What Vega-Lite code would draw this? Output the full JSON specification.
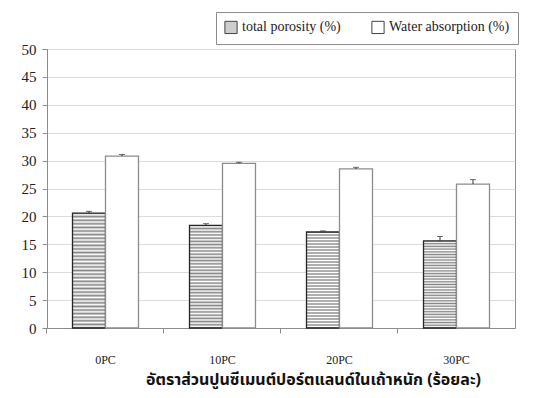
{
  "$schema": "https://vega.github.io/schema/vega-lite/v6.json",
  "width": 468,
  "height": 279,
  "autosize": "none",
  "padding": {"left": 47, "top": 49, "right": 20, "bottom": 70},
  "background": "white",
  "config": {
    "view": {"stroke": "#8c8c8c", "strokeWidth": 1},
    "font": "Liberation Serif",
    "legend": {"labelFont": "Liberation Serif", "labelFontSize": 14}
  },
  "data": {
    "values": [
      {"group": "0PC", "series": "total porosity (%)", "value": 20.6, "hi": 20.9},
      {"group": "0PC", "series": "Water absorption (%)", "value": 30.8, "hi": 31.1},
      {"group": "10PC", "series": "total porosity (%)", "value": 18.4, "hi": 18.7},
      {"group": "10PC", "series": "Water absorption (%)", "value": 29.5, "hi": 29.7},
      {"group": "20PC", "series": "total porosity (%)", "value": 17.2, "hi": 17.4},
      {"group": "20PC", "series": "Water absorption (%)", "value": 28.5, "hi": 28.8},
      {"group": "30PC", "series": "total porosity (%)", "value": 15.6, "hi": 16.4},
      {"group": "30PC", "series": "Water absorption (%)", "value": 25.8, "hi": 26.6}
    ]
  },
  "encoding": {
    "x": {
      "field": "group",
      "type": "nominal",
      "sort": ["0PC", "10PC", "20PC", "30PC"],
      "scale": {"paddingInner": 0.436, "paddingOuter": 0.218},
      "axis": {
        "title": "อัตราส่วนปูนซีเมนต์ปอร์ตแลนด์ในเถ้าหนัก  (ร้อยละ)",
        "titleFont": "Noto Sans Thai, Noto Sans, sans-serif",
        "titleFontSize": 16,
        "titleFontWeight": "bold",
        "titleColor": "#111",
        "titlePadding": 6,
        "titleX": 266,
        "titleAlign": "center",
        "labelAngle": 0,
        "labelFont": "Liberation Serif",
        "labelFontSize": 12,
        "labelColor": "#222",
        "labelPadding": 21,
        "bandPosition": -0.394,
        "ticks": true,
        "tickSize": 5,
        "tickColor": "#8c8c8c",
        "domainColor": "#8c8c8c"
      }
    },
    "xOffset": {
      "field": "series",
      "type": "nominal",
      "sort": ["total porosity (%)", "Water absorption (%)"],
      "scale": {"paddingInner": 0, "paddingOuter": 0}
    },
    "y": {
      "field": "value",
      "type": "quantitative",
      "scale": {"domain": [0, 50]},
      "axis": {
        "title": null,
        "values": [0, 5, 10, 15, 20, 25, 30, 35, 40, 45, 50],
        "labelOverlap": false,
        "labelFont": "Liberation Serif",
        "labelFontSize": 15,
        "labelColor": "#222",
        "labelPadding": 6,
        "gridColor": "#dcdcdc",
        "domainColor": "#8c8c8c",
        "tickColor": "#8c8c8c",
        "tickSize": 5
      }
    }
  },
  "layer": [
    {
      "mark": {"type": "bar", "strokeWidth": 1.3},
      "encoding": {
        "fill": {
          "condition": {
            "test": "datum.series === 'total porosity (%)'",
            "value": {
              "gradient": "linear",
              "x1": 0, "y1": 0, "x2": 0, "y2": 1,
              "stops": [
                {"offset": 0, "color": "#858585"},
                {"offset": 0.015625, "color": "#ffffff"},
                {"offset": 0.03125, "color": "#858585"},
                {"offset": 0.046875, "color": "#ffffff"},
                {"offset": 0.0625, "color": "#858585"},
                {"offset": 0.078125, "color": "#ffffff"},
                {"offset": 0.09375, "color": "#858585"},
                {"offset": 0.109375, "color": "#ffffff"},
                {"offset": 0.125, "color": "#858585"},
                {"offset": 0.140625, "color": "#ffffff"},
                {"offset": 0.15625, "color": "#858585"},
                {"offset": 0.171875, "color": "#ffffff"},
                {"offset": 0.1875, "color": "#858585"},
                {"offset": 0.203125, "color": "#ffffff"},
                {"offset": 0.21875, "color": "#858585"},
                {"offset": 0.234375, "color": "#ffffff"},
                {"offset": 0.25, "color": "#858585"},
                {"offset": 0.265625, "color": "#ffffff"},
                {"offset": 0.28125, "color": "#858585"},
                {"offset": 0.296875, "color": "#ffffff"},
                {"offset": 0.3125, "color": "#858585"},
                {"offset": 0.328125, "color": "#ffffff"},
                {"offset": 0.34375, "color": "#858585"},
                {"offset": 0.359375, "color": "#ffffff"},
                {"offset": 0.375, "color": "#858585"},
                {"offset": 0.390625, "color": "#ffffff"},
                {"offset": 0.40625, "color": "#858585"},
                {"offset": 0.421875, "color": "#ffffff"},
                {"offset": 0.4375, "color": "#858585"},
                {"offset": 0.453125, "color": "#ffffff"},
                {"offset": 0.46875, "color": "#858585"},
                {"offset": 0.484375, "color": "#ffffff"},
                {"offset": 0.5, "color": "#858585"},
                {"offset": 0.515625, "color": "#ffffff"},
                {"offset": 0.53125, "color": "#858585"},
                {"offset": 0.546875, "color": "#ffffff"},
                {"offset": 0.5625, "color": "#858585"},
                {"offset": 0.578125, "color": "#ffffff"},
                {"offset": 0.59375, "color": "#858585"},
                {"offset": 0.609375, "color": "#ffffff"},
                {"offset": 0.625, "color": "#858585"},
                {"offset": 0.640625, "color": "#ffffff"},
                {"offset": 0.65625, "color": "#858585"},
                {"offset": 0.671875, "color": "#ffffff"},
                {"offset": 0.6875, "color": "#858585"},
                {"offset": 0.703125, "color": "#ffffff"},
                {"offset": 0.71875, "color": "#858585"},
                {"offset": 0.734375, "color": "#ffffff"},
                {"offset": 0.75, "color": "#858585"},
                {"offset": 0.765625, "color": "#ffffff"},
                {"offset": 0.78125, "color": "#858585"},
                {"offset": 0.796875, "color": "#ffffff"},
                {"offset": 0.8125, "color": "#858585"},
                {"offset": 0.828125, "color": "#ffffff"},
                {"offset": 0.84375, "color": "#858585"},
                {"offset": 0.859375, "color": "#ffffff"},
                {"offset": 0.875, "color": "#858585"},
                {"offset": 0.890625, "color": "#ffffff"},
                {"offset": 0.90625, "color": "#858585"},
                {"offset": 0.921875, "color": "#ffffff"},
                {"offset": 0.9375, "color": "#858585"},
                {"offset": 0.953125, "color": "#ffffff"},
                {"offset": 0.96875, "color": "#858585"},
                {"offset": 0.984375, "color": "#ffffff"},
                {"offset": 1, "color": "#858585"}
              ]
            }
          },
          "field": "series",
          "type": "nominal",
          "sort": ["total porosity (%)", "Water absorption (%)"],
          "scale": {"range": ["#cdcdcd", "#ffffff"]},
          "legend": {
            "title": null,
            "orient": "none",
            "legendX": 169,
            "legendY": -37,
            "direction": "horizontal",
            "strokeColor": "#8c8c8c",
            "fillColor": "white",
            "padding": 8,
            "symbolType": "square",
            "symbolSize": 150,
            "symbolStrokeWidth": 1,
            "symbolStrokeColor": "#444",
            "labelFont": "Liberation Serif",
            "labelFontSize": 14,
            "labelColor": "#222",
            "columnPadding": 28,
            "labelLimit": 300
          }
        },
        "stroke": {
          "field": "series",
          "type": "nominal",
          "sort": ["total porosity (%)", "Water absorption (%)"],
          "scale": {"range": ["#262626", "#8c8c8c"]},
          "legend": null
        }
      }
    },
    {
      "mark": {"type": "rule", "color": "#333", "strokeWidth": 1},
      "encoding": {
        "y2": {"field": "hi"}
      }
    },
    {
      "mark": {"type": "tick", "color": "#333", "size": 6, "thickness": 1},
      "encoding": {
        "y": {"field": "hi", "type": "quantitative"}
      }
    }
  ]
}
